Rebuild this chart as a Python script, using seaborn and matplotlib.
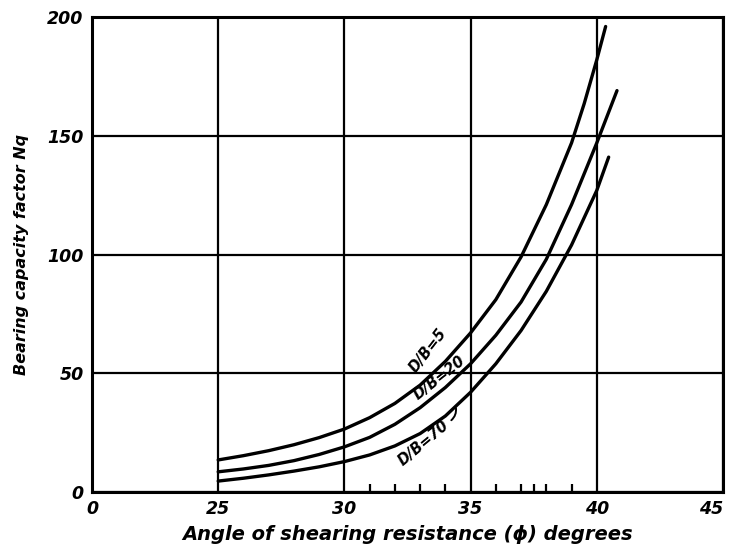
import numpy as np
import pandas as pd
import matplotlib
matplotlib.use("Agg")
import matplotlib.pyplot as plt
import seaborn as sns

# Angle of shearing resistance (degrees) and bearing capacity factor Nq
phi_db5 = [25, 26, 27, 28, 29, 30, 31, 32, 33, 34, 35, 36, 37, 38, 39, 39.5, 40, 40.35]
nq_db5 = [13.5, 15.3, 17.4, 19.9, 22.9, 26.5, 31.3, 37.3, 45, 55, 67, 81, 99, 121, 147, 163.5, 182, 196]

phi_db20 = [25, 26, 27, 28, 29, 30, 31, 32, 33, 34, 35, 36, 37, 38, 39, 40, 40.4, 40.8]
nq_db20 = [8.5, 9.7, 11.2, 13.2, 15.8, 19, 23, 28.5, 35.5, 44, 54, 66, 80, 98, 121, 147, 158, 169]

phi_db70 = [25, 26, 27, 28, 29, 30, 31, 32, 33, 34, 35, 36, 37, 38, 39, 40, 40.47]
nq_db70 = [4.6, 5.8, 7.2, 8.8, 10.6, 12.8, 15.6, 19.4, 24.6, 32, 42, 54, 68, 84.5, 104, 127, 141]

series_names = ["D/B = 5", "D/B = 20", "D/B = 70"]

x_ticks = [0, 25, 30, 35, 40, 45]
y_ticks = [0, 50, 100, 150, 200]
marked_angles = [31, 32, 33, 34, 36, 37, 37.5, 38, 39]

df = pd.concat([
    pd.DataFrame({"phi": phi_db5, "nq": nq_db5, "series": series_names[0]}),
    pd.DataFrame({"phi": phi_db20, "nq": nq_db20, "series": series_names[1]}),
    pd.DataFrame({"phi": phi_db70, "nq": nq_db70, "series": series_names[2]}),
], ignore_index=True)

sns.set_theme(style="white")
plt.rcParams["font.family"] = ["DejaVu Sans"]
for key in ("text.color", "axes.labelcolor", "xtick.color", "ytick.color"):
    plt.rcParams[key] = "black"

fig = plt.figure(figsize=(7.3, 5.58), dpi=100)
ax = fig.add_axes([92 / 730, 1 - 492 / 558, (723 - 92) / 730, (492 - 17) / 558])


# Broken axis: 0-25 squeezed into one grid cell, linear above 25
def fwd(x):
    x = np.asarray(x, dtype=float)
    return np.where(x < 25, x / 5.0, x - 20.0)


def inv(p):
    p = np.asarray(p, dtype=float)
    return np.where(p < 5, p * 5.0, p + 20.0)


ax.set_xscale("function", functions=(fwd, inv))

sns.lineplot(data=df, x="phi", y="nq", units="series", estimator=None,
             color="black", linewidth=2.4, sort=False, ax=ax, legend=False)
for line in ax.get_lines():
    line.set_solid_joinstyle("round")
    line.set_solid_capstyle("round")

ax.set_xlim(0, 45)
ax.set_ylim(0, 200)
ax.set_xticks(x_ticks)
ax.set_yticks(y_ticks)
tick_font = dict(fontsize=12.5, fontweight="bold", fontstyle="italic")
ax.set_xticklabels([str(t) for t in x_ticks], **tick_font)
ax.set_yticklabels([str(t) for t in y_ticks], **tick_font)
ax.get_xticklabels()[-1].set_horizontalalignment("right")
ax.tick_params(axis="both", which="major", length=0, pad=6)
ax.set_xticks(marked_angles, minor=True)
ax.tick_params(axis="x", which="minor", direction="in", length=6, width=1.6,
               color="black", bottom=True)

ax.grid(True, which="major", color="black", linewidth=1.6)
for s in ax.spines.values():
    s.set_color("black")
    s.set_linewidth(2.2)

ax.set_xlabel("Angle of shearing resistance (ϕ) degrees", fontsize=14,
              fontweight="bold", fontstyle="italic", labelpad=5)
ax.set_ylabel("Bearing capacity factor Nq", fontsize=11.5,
              fontweight="bold", fontstyle="italic", labelpad=13)

label_font = dict(fontsize=10.5, fontweight="bold", fontstyle="italic",
                  ha="center", va="center")
ax.text(33.3, 59.5, series_names[0].replace(" ", ""), rotation=52, **label_font)
ax.text(33.75, 48.2, series_names[1].replace(" ", ""), rotation=38, **label_font)
ax.text(33.15, 20.5, series_names[2].replace(" ", ""), rotation=40, **label_font)
ax.annotate("", xy=(34.4, 36.5), xytext=(34.15, 29.5),
            arrowprops=dict(arrowstyle="-", color="black", lw=1.4,
                            connectionstyle="arc3,rad=0.35"))

fig.savefig("out.png", dpi=100)
